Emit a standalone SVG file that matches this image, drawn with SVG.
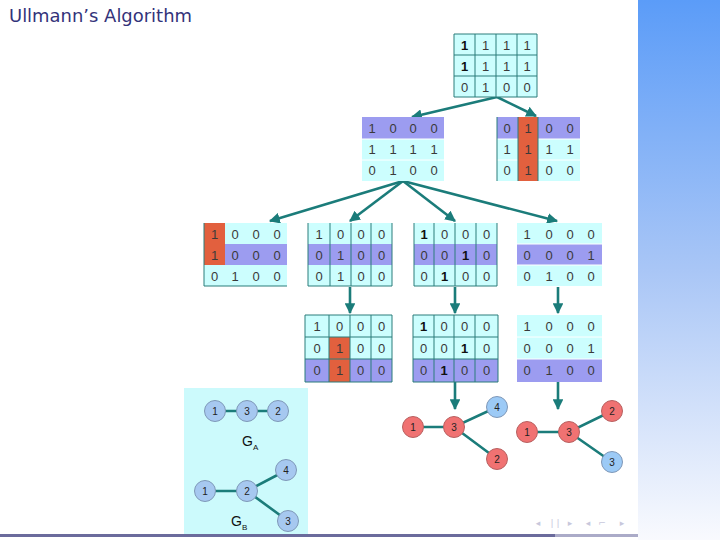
<svg xmlns="http://www.w3.org/2000/svg" width="720" height="540" viewBox="0 0 720 540">
<defs>
<linearGradient id="side" x1="0" y1="0" x2="0" y2="1">
<stop offset="0" stop-color="#5b9cf8"/>
<stop offset="0.5" stop-color="#a9c6f6"/>
<stop offset="1" stop-color="#f9fafe"/>
</linearGradient>
<marker id="ah" viewBox="0 0 10 10" refX="9" refY="5" markerWidth="4.2" markerHeight="4.2" orient="auto" markerUnits="strokeWidth">
<path d="M0,0 L10,5 L0,10 z" fill="#1b7c7a"/>
</marker>
<style>
.cy{fill:#ccfefe}
.pu{fill:#9c9cf0}
.rd{fill:#e2603e}
.gl{stroke:#2a7d7b;stroke-width:1;fill:none}
.wl{stroke:#ffffff;stroke-width:1;fill:none}
.d{font-family:"Liberation Sans",Arial,sans-serif;font-size:13px;fill:#3a3a3a;text-anchor:middle}
.b{font-weight:bold;fill:#111}
.ar{stroke:#1b7c7a;stroke-width:2.6;fill:none;marker-end:url(#ah)}
.ed{stroke:#1b7c7a;stroke-width:2.6;fill:none}
.nb{fill:#a6c8f0;stroke:#7f98b8;stroke-width:1}
.nr{fill:#f07272;stroke:#b86060;stroke-width:1}
.nl{fill:#9ccaf6;stroke:#7f98b8;stroke-width:1}
.nt{font-family:"Liberation Sans",Arial,sans-serif;font-size:10px;fill:#222;text-anchor:middle}
.gt{font-family:"Liberation Sans",Arial,sans-serif;font-size:14px;fill:#111}
.nav{font-family:"DejaVu Sans",sans-serif;font-size:9px;fill:#c8c8dc;text-anchor:middle}
</style>
</defs>
<rect x="0" y="0" width="720" height="540" fill="#ffffff"/>
<rect x="638" y="0" width="82" height="540" fill="url(#side)"/>
<text x="9" y="22" font-family="DejaVu Sans, sans-serif" font-size="17" fill="#33337a" textLength="183" lengthAdjust="spacingAndGlyphs">Ullmann’s Algorithm</text>

<!-- graph panel -->
<rect x="184" y="388" width="124" height="148" fill="#ccfafc"/>

<g id="connectors">
<path class="ar" d="M497,97 L412,117"/>
<path class="ar" d="M497,97 L536,116"/>
<path class="ar" d="M403,181 L270,221"/>
<path class="ar" d="M403,181 L350,221"/>
<path class="ar" d="M403,181 L455,221"/>
<path class="ar" d="M403,181 L557,221"/>
<path class="ar" d="M350,287 L350,313"/>
<path class="ar" d="M455,287 L455,313"/>
<path class="ar" d="M558,287 L558,313"/>
<path class="ar" d="M455,382 L455,409"/>
<path class="ar" d="M558,382 L558,409"/>
</g>

<g id="m0">
<rect class="cy" x="454" y="34" width="83" height="63"/>
<path class="gl" d="M454,34 H537 V97 H454 Z M454,55 H537 M454,76 H537 M475,34 V97 M496,34 V97 M517,34 V97"/>
<text class="d" y="50"><tspan class="b" x="464.5">1</tspan><tspan x="485.5">1</tspan><tspan x="506.5">1</tspan><tspan x="527">1</tspan></text>
<text class="d" y="71"><tspan class="b" x="464.5">1</tspan><tspan x="485.5">1</tspan><tspan x="506.5">1</tspan><tspan x="527">1</tspan></text>
<text class="d" y="92"><tspan x="464.5">0</tspan><tspan x="485.5">1</tspan><tspan x="506.5">0</tspan><tspan x="527">0</tspan></text>
</g>

<g id="m1">
<rect class="cy" x="362" y="117" width="82" height="64"/>
<rect class="pu" x="362" y="117" width="82" height="22"/>
<path class="wl" d="M362,139 H444 M362,160 H444"/>
<text class="d" y="133"><tspan x="372">1</tspan><tspan x="393">0</tspan><tspan x="413">0</tspan><tspan x="434">0</tspan></text>
<text class="d" y="154"><tspan x="372">1</tspan><tspan x="393">1</tspan><tspan x="413">1</tspan><tspan x="434">1</tspan></text>
<text class="d" y="175"><tspan x="372">0</tspan><tspan x="393">1</tspan><tspan x="413">0</tspan><tspan x="434">0</tspan></text>
</g>

<g id="m2">
<rect class="cy" x="497" y="117" width="83" height="64"/>
<rect class="pu" x="497" y="117" width="83" height="22"/>
<path class="wl" d="M497,139 H580 M497,160 H580"/>
<rect class="rd" x="518" y="117" width="20" height="64"/>
<path class="gl" d="M497,117 V181 M518,117 V181 M538,117 V181"/>
<text class="d" y="133"><tspan x="507">0</tspan><tspan x="528">1</tspan><tspan x="549">0</tspan><tspan x="570">0</tspan></text>
<text class="d" y="154"><tspan x="507">1</tspan><tspan x="528">1</tspan><tspan x="549">1</tspan><tspan x="570">1</tspan></text>
<text class="d" y="175"><tspan x="507">0</tspan><tspan x="528">1</tspan><tspan x="549">0</tspan><tspan x="570">0</tspan></text>
</g>

<g id="m3">
<rect class="cy" x="204" y="223" width="83" height="63"/>
<rect class="pu" x="204" y="244" width="83" height="21"/>
<rect class="rd" x="204" y="223" width="21" height="42"/>
<path class="gl" d="M204,223 V286 H287"/>
<text class="d" y="239"><tspan x="214.5">1</tspan><tspan x="235">0</tspan><tspan x="256">0</tspan><tspan x="277">0</tspan></text>
<text class="d" y="260"><tspan x="214.5">1</tspan><tspan x="235">0</tspan><tspan x="256">0</tspan><tspan x="277">0</tspan></text>
<text class="d" y="281"><tspan x="214.5">0</tspan><tspan x="235">1</tspan><tspan x="256">0</tspan><tspan x="277">0</tspan></text>
</g>

<g id="m4">
<rect class="cy" x="308" y="223" width="84" height="63"/>
<rect class="pu" x="308" y="244" width="84" height="21"/>
<path class="gl" d="M308,223 V286 H392 V223 M330,223 V286 M351,223 V286 M371,223 V286"/>
<text class="d" y="239"><tspan x="319">1</tspan><tspan x="340.5">0</tspan><tspan x="361">0</tspan><tspan x="381.5">0</tspan></text>
<text class="d" y="260"><tspan x="319">0</tspan><tspan x="340.5">1</tspan><tspan x="361">0</tspan><tspan x="381.5">0</tspan></text>
<text class="d" y="281"><tspan x="319">0</tspan><tspan x="340.5">1</tspan><tspan x="361">0</tspan><tspan x="381.5">0</tspan></text>
</g>

<g id="m5">
<rect class="cy" x="414" y="223" width="83" height="63"/>
<rect class="pu" x="414" y="244" width="83" height="21"/>
<path class="gl" d="M414,223 V286 H497 V223 M434,223 V286 M455,223 V286 M476,223 V286"/>
<text class="d" y="239"><tspan class="b" x="424">1</tspan><tspan x="444.5">0</tspan><tspan x="465.5">0</tspan><tspan x="486.5">0</tspan></text>
<text class="d" y="260"><tspan x="424">0</tspan><tspan x="444.5">0</tspan><tspan class="b" x="465.5">1</tspan><tspan x="486.5">0</tspan></text>
<text class="d" y="281"><tspan x="424">0</tspan><tspan class="b" x="444.5">1</tspan><tspan x="465.5">0</tspan><tspan x="486.5">0</tspan></text>
</g>

<g id="m6">
<rect class="cy" x="517" y="223" width="85" height="63"/>
<rect class="pu" x="517" y="244" width="85" height="21"/>
<path class="wl" d="M517,244 H602 M517,265 H602"/>
<text class="d" y="239"><tspan x="527">1</tspan><tspan x="549">0</tspan><tspan x="570">0</tspan><tspan x="591">0</tspan></text>
<text class="d" y="260"><tspan x="527">0</tspan><tspan x="549">0</tspan><tspan x="570">0</tspan><tspan x="591">1</tspan></text>
<text class="d" y="281"><tspan x="527">0</tspan><tspan x="549">1</tspan><tspan x="570">0</tspan><tspan x="591">0</tspan></text>
</g>

<g id="m7">
<rect class="cy" x="305" y="315" width="87" height="67"/>
<rect class="pu" x="305" y="359" width="87" height="23"/>
<rect class="rd" x="329" y="337" width="21" height="45"/>
<path class="gl" d="M305,315 H392 V382 H305 Z M305,337 H392 M305,359 H392 M329,315 V382 M350,315 V382 M371,315 V382"/>
<text class="d" y="331"><tspan x="317">1</tspan><tspan x="339.5">0</tspan><tspan x="360.5">0</tspan><tspan x="381.5">0</tspan></text>
<text class="d" y="353"><tspan x="317">0</tspan><tspan x="339.5">1</tspan><tspan x="360.5">0</tspan><tspan x="381.5">0</tspan></text>
<text class="d" y="375"><tspan x="317">0</tspan><tspan x="339.5">1</tspan><tspan x="360.5">0</tspan><tspan x="381.5">0</tspan></text>
</g>

<g id="m8">
<rect class="cy" x="413" y="315" width="85" height="67"/>
<rect class="pu" x="413" y="359" width="85" height="23"/>
<path class="gl" d="M413,315 H498 V382 H413 Z M413,337 H498 M413,359 H498 M434,315 V382 M454,315 V382 M475,315 V382"/>
<text class="d" y="331"><tspan class="b" x="423.5">1</tspan><tspan x="444">0</tspan><tspan x="464.5">0</tspan><tspan x="486.5">0</tspan></text>
<text class="d" y="353"><tspan x="423.5">0</tspan><tspan x="444">0</tspan><tspan class="b" x="464.5">1</tspan><tspan x="486.5">0</tspan></text>
<text class="d" y="375"><tspan x="423.5">0</tspan><tspan class="b" x="444">1</tspan><tspan x="464.5">0</tspan><tspan x="486.5">0</tspan></text>
</g>

<g id="m9">
<rect class="cy" x="517" y="315" width="85" height="67"/>
<rect class="pu" x="517" y="359" width="85" height="23"/>
<path class="wl" d="M517,337 H602 M517,359 H602"/>
<text class="d" y="331"><tspan x="527">1</tspan><tspan x="549">0</tspan><tspan x="570">0</tspan><tspan x="591">0</tspan></text>
<text class="d" y="353"><tspan x="527">0</tspan><tspan x="549">0</tspan><tspan x="570">0</tspan><tspan x="591">1</tspan></text>
<text class="d" y="375"><tspan x="527">0</tspan><tspan x="549">1</tspan><tspan x="570">0</tspan><tspan x="591">0</tspan></text>
</g>

<g id="graphA">
<path class="ed" d="M215,411 H278" stroke-width="3.2"/>
<circle class="nb" cx="215" cy="411" r="10.5"/><text class="nt" x="215" y="414.5">1</text>
<circle class="nb" cx="247" cy="411" r="10.5"/><text class="nt" x="247" y="414.5">3</text>
<circle class="nb" cx="278" cy="411" r="10.5"/><text class="nt" x="278" y="414.5">2</text>
<text class="gt" x="242" y="446">G<tspan font-size="8" dy="4">A</tspan></text>
</g>

<g id="graphB">
<path class="ed" d="M205,491 H247 L285,471 M247,491 L288,521"/>
<circle class="nb" cx="205" cy="491" r="10.5"/><text class="nt" x="205" y="494.5">1</text>
<circle class="nb" cx="247" cy="491" r="10.5"/><text class="nt" x="247" y="494.5">2</text>
<circle class="nb" cx="286" cy="470" r="10.5"/><text class="nt" x="286" y="473.5">4</text>
<circle class="nb" cx="288" cy="521" r="10.5"/><text class="nt" x="288" y="524.5">3</text>
<text class="gt" x="231" y="526">G<tspan font-size="8" dy="4">B</tspan></text>
</g>

<g id="result1">
<path class="ed" d="M413,427 H454 L497,407 M454,427 L497,459"/>
<circle class="nr" cx="413" cy="427" r="10.5"/><text class="nt" x="413" y="430.5">1</text>
<circle class="nr" cx="454" cy="427" r="10.5"/><text class="nt" x="454" y="430.5">3</text>
<circle class="nl" cx="497" cy="407" r="10.5"/><text class="nt" x="497" y="410.5">4</text>
<circle class="nr" cx="497" cy="459" r="10.5"/><text class="nt" x="497" y="462.5">2</text>
</g>

<g id="result2">
<path class="ed" d="M527,432 H569 L612,411 M569,432 L612,462"/>
<circle class="nr" cx="527" cy="432" r="10.5"/><text class="nt" x="527" y="435.5">1</text>
<circle class="nr" cx="569" cy="432" r="10.5"/><text class="nt" x="569" y="435.5">3</text>
<circle class="nr" cx="612" cy="411" r="10.5"/><text class="nt" x="612" y="414.5">2</text>
<circle class="nl" cx="612" cy="462" r="10.5"/><text class="nt" x="612" y="465.5">3</text>
</g>

<g id="nav">
<text class="nav" x="538" y="526">◂</text>
<text class="nav" x="555" y="526">| |</text>
<text class="nav" x="570" y="526">▸</text>
<text class="nav" x="588" y="526">◂</text>
<text class="nav" x="602" y="526">⌐</text>
<text class="nav" x="622" y="526">▸</text>
</g>

<rect x="0" y="534" width="555" height="3" fill="#6b6b9c"/>
<rect x="555" y="534" width="83" height="3" fill="#ababc8"/>
</svg>
